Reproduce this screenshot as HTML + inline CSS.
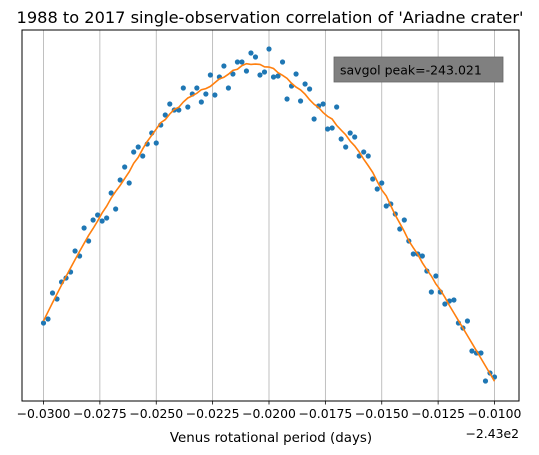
<!DOCTYPE html>
<html><head><meta charset="utf-8"><style>
body{margin:0;background:#fff;}
svg{display:block;font-family:"DejaVu Sans","Liberation Sans",sans-serif;}
</style></head><body>
<svg id="chart" width="539" height="455" viewBox="0 0 539 455"></svg>
<script>
const xStart = -0.0300, xStep = 0.0002;
const corrValues = [78,82,108,102,119,123,129,150,145,173,160,181,186,180,183,208,192,221,234,218,249,254,245,257,268,258,276,286,297,291,291,313,294,307,313,299,307,326,306,324,335,313,327,339,339,330,348,344,326,329,352,
324,325,339,302,315,327,300,317,312,282,295,297,272,273,294,262,254,268,264,245,249,245,222,212,218,195,197,187,172,181,160,147,147,145,130,109,125,109,97,100,101,78,73,80,50,48,48,20,28,24];
const tickValues = [-0.0300,-0.0275,-0.0250,-0.0225,-0.0200,-0.0175,-0.0150,-0.0125,-0.0100];
const tickLabels = ["\u22120.0300","\u22120.0275","\u22120.0250","\u22120.0225","\u22120.0200","\u22120.0175","\u22120.0150","\u22120.0125","\u22120.0100"];
const peakLabel = "savgol peak=-243.021";

const NS="http://www.w3.org/2000/svg";
const svg=document.getElementById('chart');
const L=22,R=519,T=30,B=401;
const sx=v=>43.5+(v+0.03)/0.02*(494.5-43.5);
const sy=v=>401-v;
function mk(tag,attrs,parent){const e=document.createElementNS(NS,tag);for(const k in attrs)e.setAttribute(k,attrs[k]);(parent||svg).appendChild(e);return e;}

const xs=corrValues.map((_,i)=>xStart+i*xStep);
tickValues.forEach((t,i)=>{
  const g=mk('line',{x1:sx(t),x2:sx(t),y1:T,y2:B,stroke:'#b0b0b0','stroke-width':0.8});
  
  
  const tk=mk('line',{x1:sx(t),x2:sx(t),y1:B,y2:B+3.5,stroke:'#000','stroke-width':0.8});
  
  
  const lb=mk('text',{x:sx(t),y:B+17,'text-anchor':'middle','font-size':12.4,fill:'#000'});
  lb.textContent=tickLabels[i];
  
  
});
corrValues.forEach((v,i)=>{
  const c=mk('circle',{cx:sx(xs[i]),cy:sy(v),r:2.6,fill:'#1f77b4'});
  
  
});
const W=10,n=corrValues.length;
function fitAt(i){
  let s=Math.max(0,Math.min(n-2*W-1,i-W));
  let S=[0,0,0,0,0],Y=[0,0,0];
  for(let j=s;j<=s+2*W;j++){const d=j-i;const y=corrValues[j];let p=1;for(let k=0;k<5;k++){S[k]+=p;if(k<3)Y[k]+=p*y;p*=d;}}
  const A=[[S[0],S[1],S[2]],[S[1],S[2],S[3]],[S[2],S[3],S[4]]];
  const det=m=>m[0][0]*(m[1][1]*m[2][2]-m[1][2]*m[2][1])-m[0][1]*(m[1][0]*m[2][2]-m[1][2]*m[2][0])+m[0][2]*(m[1][0]*m[2][1]-m[1][1]*m[2][0]);
  const D=det(A);const A0=A.map((r,ri)=>[Y[ri],r[1],r[2]]);
  return det(A0)/D;
}
const smooth=corrValues.map((_,i)=>fitAt(i));
const path=mk('polyline',{points:smooth.map((v,i)=>sx(xs[i])+','+sy(v)).join(' '),fill:'none',stroke:'#ff7f0e','stroke-width':1.6});


const fr=mk('rect',{x:L,y:T,width:R-L,height:B-T,fill:'none',stroke:'#000','stroke-width':1});


const lg=mk('rect',{x:334,y:57,width:169,height:25,fill:'#808080',stroke:'#666','stroke-width':0.8});


const lt=mk('text',{x:340,y:74.5,'font-size':12.5,fill:'#000'});
lt.textContent=peakLabel;


const ti=mk('text',{x:270,y:23,'text-anchor':'middle','font-size':16.2,fill:'#000'});
ti.textContent="1988 to 2017 single-observation correlation of 'Ariadne crater'";


const xl=mk('text',{x:271,y:442,'text-anchor':'middle','font-size':13.4,fill:'#000'});
xl.textContent="Venus rotational period (days)";


const off=mk('text',{x:519,y:438,'text-anchor':'end','font-size':12.4,fill:'#000'});
off.textContent="\u22122.43e2";


</script>
</body></html>
